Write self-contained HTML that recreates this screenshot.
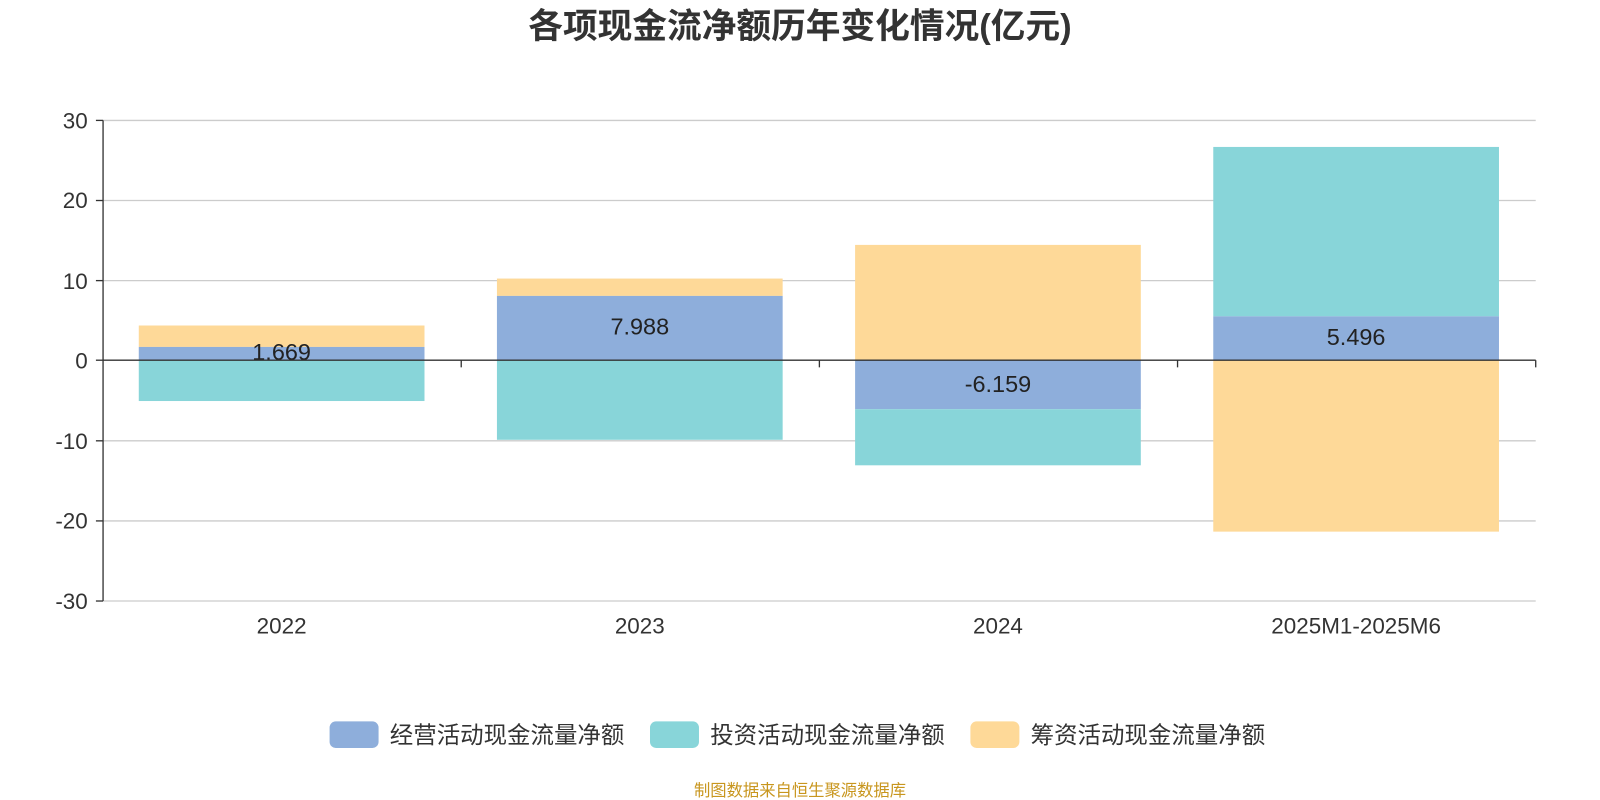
<!DOCTYPE html>
<html><head><meta charset="utf-8"><style>
html,body{margin:0;padding:0;background:#fff;}
svg{display:block;font-family:"Liberation Sans","Noto Sans CJK SC",sans-serif;}
</style></head><body>
<svg width="1600" height="800" viewBox="0 0 1568 784" xmlns="http://www.w3.org/2000/svg">
<text x="784" y="37" text-anchor="middle" font-size="34" font-weight="bold" fill="#333">各项现金流净额历年变化情况(亿元)</text>
<g stroke="#ccc" stroke-width="1.3">
<line x1="101" y1="118" x2="1505" y2="118"/>
<line x1="101" y1="196.5" x2="1505" y2="196.5"/>
<line x1="101" y1="275" x2="1505" y2="275"/>
<line x1="101" y1="432" x2="1505" y2="432"/>
<line x1="101" y1="510.5" x2="1505" y2="510.5"/>
<line x1="101" y1="589" x2="1505" y2="589"/>
</g>
<g>
<rect x="136" y="319" width="280" height="21" fill="#fed998"/>
<rect x="136" y="340" width="280" height="13" fill="#8eaedb"/>
<rect x="136" y="353" width="280" height="40" fill="#88d5d9"/>

<rect x="487" y="273" width="280" height="17" fill="#fed998"/>
<rect x="487" y="290" width="280" height="63" fill="#8eaedb"/>
<rect x="487" y="353" width="280" height="78" fill="#88d5d9"/>

<rect x="838" y="240" width="280" height="113" fill="#fed998"/>
<rect x="838" y="353" width="280" height="48" fill="#8eaedb"/>
<rect x="838" y="401" width="280" height="55" fill="#88d5d9"/>

<rect x="1189" y="144" width="280" height="166" fill="#88d5d9"/>
<rect x="1189" y="310" width="280" height="43" fill="#8eaedb"/>
<rect x="1189" y="353" width="280" height="168" fill="#fed998"/>
</g>
<g font-size="23" fill="#222" text-anchor="middle">
<text x="276" y="353">1.669</text>
<text x="627" y="328">7.988</text>
<text x="978" y="384">-6.159</text>
<text x="1329" y="338">5.496</text>
</g>
<g stroke="#333" stroke-width="1.3">
<line x1="101" y1="118" x2="101" y2="589"/>
<line x1="101" y1="353" x2="1505" y2="353"/>
<line x1="94" y1="118" x2="101" y2="118"/>
<line x1="94" y1="196.5" x2="101" y2="196.5"/>
<line x1="94" y1="275" x2="101" y2="275"/>
<line x1="94" y1="353" x2="101" y2="353"/>
<line x1="94" y1="432" x2="101" y2="432"/>
<line x1="94" y1="510.5" x2="101" y2="510.5"/>
<line x1="94" y1="589" x2="101" y2="589"/>
<line x1="452" y1="353" x2="452" y2="360"/>
<line x1="803" y1="353" x2="803" y2="360"/>
<line x1="1154" y1="353" x2="1154" y2="360"/>
<line x1="1505" y1="353" x2="1505" y2="360"/>
</g>
<g font-size="22" fill="#333" text-anchor="end">
<text x="86" y="126">30</text>
<text x="86" y="204">20</text>
<text x="86" y="283">10</text>
<text x="86" y="361">0</text>
<text x="86" y="440">-10</text>
<text x="86" y="518">-20</text>
<text x="86" y="597">-30</text>
</g>
<g font-size="22" fill="#333" text-anchor="middle">
<text x="276" y="621">2022</text>
<text x="627" y="621">2023</text>
<text x="978" y="621">2024</text>
<text x="1329" y="621">2025M1-2025M6</text>
</g>
<g font-size="23" fill="#333">
<rect x="323" y="707" width="48" height="26" rx="6" fill="#8eaedb"/>
<text x="382" y="728">经营活动现金流量净额</text>
<rect x="637" y="707" width="48" height="26" rx="6" fill="#88d5d9"/>
<text x="696" y="728">投资活动现金流量净额</text>
<rect x="951" y="707" width="48" height="26" rx="6" fill="#fed998"/>
<text x="1010" y="728">筹资活动现金流量净额</text>
</g>
<text x="784" y="780" text-anchor="middle" font-size="16" fill="#c8961e">制图数据来自恒生聚源数据库</text>
</svg>
</body></html>
